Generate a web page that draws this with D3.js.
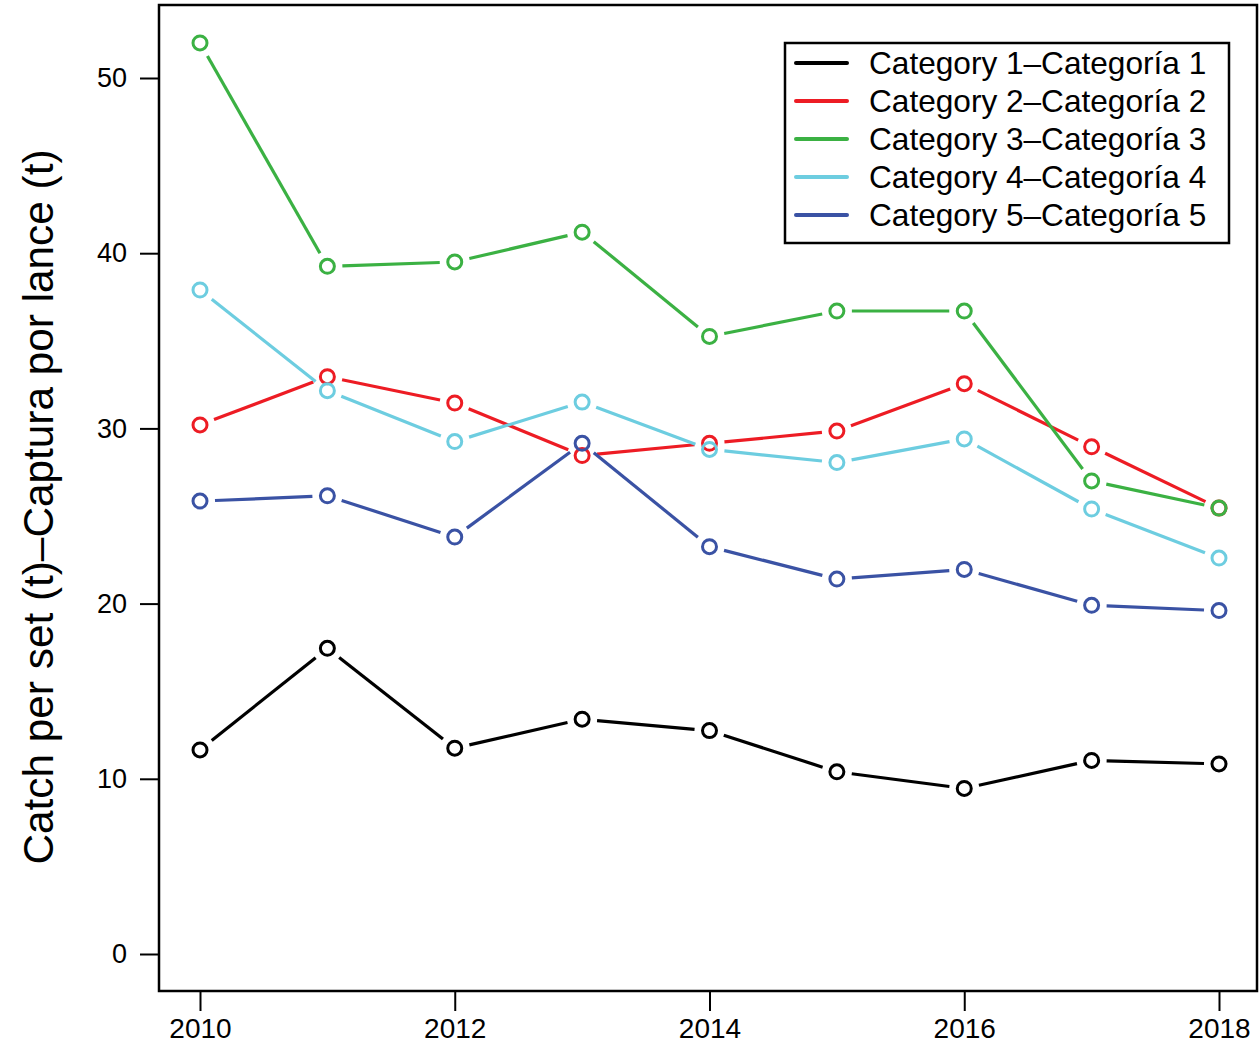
<!DOCTYPE html>
<html><head><meta charset="utf-8">
<script src="https://cdn.jsdelivr.net/npm/d3@7"></script>
<style>body{margin:0;background:#fff}svg{display:block}text{font-family:"Liberation Sans",Arial,sans-serif}</style>
</head><body>
<svg id="c" width="1260" height="1049"></svg>
<script>
const years = [2010, 2011, 2012, 2013, 2014, 2015, 2016, 2017, 2018];
const cat1 = [11.65, 17.45, 11.75, 13.4, 12.75, 10.4, 9.45, 11.05, 10.85];
const cat2 = [30.2, 32.95, 31.45, 28.45, 29.15, 29.85, 32.55, 28.95, 25.45];
const cat3 = [52.0, 39.25, 39.5, 41.2, 35.25, 36.7, 36.7, 27.0, 25.45];
const cat4 = [37.9, 32.15, 29.25, 31.5, 28.8, 28.05, 29.4, 25.4, 22.6];
const cat5 = [25.85, 26.15, 23.8, 29.15, 23.25, 21.4, 21.95, 19.9, 19.6];
const seriesNames = ["Category 1\u2013Categoría 1","Category 2\u2013Categoría 2","Category 3\u2013Categoría 3","Category 4\u2013Categoría 4","Category 5\u2013Categoría 5"];
const seriesColors = ["#000000","#ed1c24","#3bb143","#6dcde0","#3a52a4"];
const xTicks = [2010, 2012, 2014, 2016, 2018];
const yTicks = [0, 10, 20, 30, 40, 50];
const yTitle = "Catch per set (t)\u2013Captura por lance (t)";

const series = [cat1, cat2, cat3, cat4, cat5];
const svg = d3.select("#c");
const x = d3.scaleLinear().domain([2010, 2018]).range([200, 1219]);
const y = d3.scaleLinear().domain([0, 50]).range([954, 78]);

// plot box
svg.append("rect").attr("x",159).attr("y",5).attr("width",1098).attr("height",986)
  .attr("fill","none").attr("stroke","#000").attr("stroke-width",2.5);

// axes
const yAxis = svg.append("g").attr("transform","translate(159,0)")
  .call(d3.axisLeft(y).tickValues(yTicks).tickSize(19).tickPadding(13).tickFormat(d3.format("d")));
yAxis.select(".domain").remove();
yAxis.selectAll("line").attr("stroke","#000").attr("stroke-width",2);
yAxis.selectAll("text").attr("font-size",27).attr("fill","#000").attr("font-family","Liberation Sans, Arial, sans-serif");

const xAxis = svg.append("g").attr("transform","translate(0,991)")
  .call(d3.axisBottom(x).tickValues(xTicks).tickSize(20).tickPadding(7).tickFormat(d3.format("d")));
xAxis.select(".domain").remove();
xAxis.selectAll("line").attr("stroke","#000").attr("stroke-width",2);
xAxis.selectAll("text").attr("font-size",28).attr("fill","#000").attr("font-family","Liberation Sans, Arial, sans-serif");

// y title
svg.append("text").attr("transform","translate(53,507) rotate(-90)")
  .attr("text-anchor","middle").attr("font-size",42)
  .attr("textLength",715).attr("lengthAdjust","spacingAndGlyphs")
  .text(yTitle);

// series: type "b" (lines with gaps around points)
const gap = 15;
series.forEach((vals, si) => {
  const col = seriesColors[si];
  const g = svg.append("g");
  const pts = vals.map((v,i) => [x(years[i]), y(v)]);
  for (let i = 0; i < pts.length - 1; i++) {
    const [x0,y0] = pts[i], [x1,y1] = pts[i+1];
    const dx = x1-x0, dy = y1-y0, L = Math.hypot(dx,dy);
    if (L <= 2*gap) continue;
    const ux = dx/L, uy = dy/L;
    g.append("line").attr("x1",x0+ux*gap).attr("y1",y0+uy*gap)
      .attr("x2",x1-ux*gap).attr("y2",y1-uy*gap)
      .attr("stroke",col).attr("stroke-width",3.2);
  }
  g.selectAll("circle").data(vals).join("circle")
    .attr("cx",(d,i)=>x(years[i])).attr("cy",d=>y(d)).attr("r",7)
    .attr("fill","none").attr("stroke",col).attr("stroke-width",3);
});

// legend
const lg = svg.append("g");
lg.append("rect").attr("x",785).attr("y",43).attr("width",444).attr("height",200)
  .attr("fill","#fff").attr("stroke","#000").attr("stroke-width",2.5);
seriesNames.forEach((n,i) => {
  const yy = 63 + i*38;
  lg.append("line").attr("x1",796).attr("x2",847).attr("y1",yy).attr("y2",yy)
    .attr("stroke",seriesColors[i]).attr("stroke-width",4).attr("stroke-linecap","round");
  lg.append("text").attr("x",869).attr("y",yy+11).attr("font-size",31.6).text(n);
});
</script>
</body></html>
